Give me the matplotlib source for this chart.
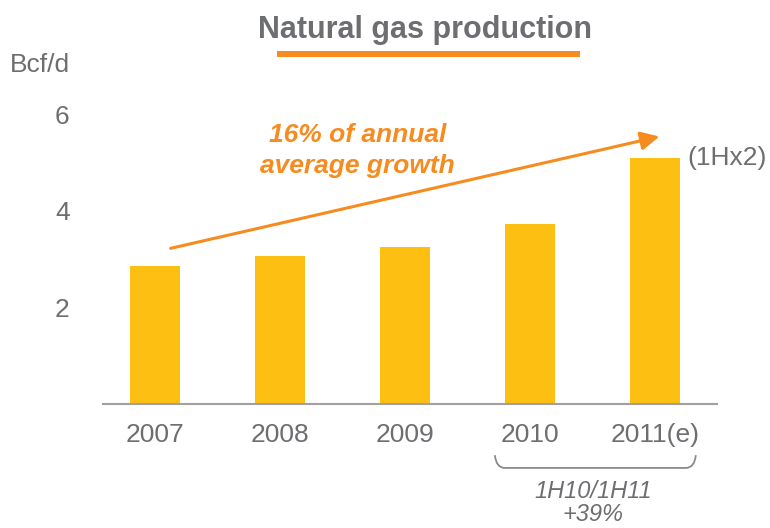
import numpy as np
import matplotlib.pyplot as plt
from matplotlib.path import Path
from matplotlib.patches import PathPatch
from matplotlib.lines import Line2D

plt.rcParams['font.family'] = ['Liberation Sans', 'DejaVu Sans']

years = ['2007', '2008', '2009', '2010', '2011(e)']
production = [2.85, 3.07, 3.26, 3.72, 5.09]
yticks = [2, 4, 6]

gray = '#6d6e71'
orange = '#f68b1f'
bar_color = '#fcbf12'

fig = plt.figure(figsize=(7.7, 5.28), dpi=100)
ax = fig.add_axes([0.1338, 0.2348, 0.7974, 0.5764])

x = np.arange(len(years))
ax.bar(x, production, width=0.4, color=bar_color, zorder=2)

ax.set_xlim(-0.42, 4.5)
ax.set_ylim(0, 6.3)
ax.set_xticks(x)
ax.set_xticklabels(years)
ax.set_yticks(yticks)
for s in ['top', 'right', 'left']:
    ax.spines[s].set_visible(False)
ax.spines['bottom'].set_color('#a0a0a0')
ax.spines['bottom'].set_linewidth(1.5)
ax.tick_params(axis='y', length=0, pad=24, labelsize=19, labelcolor=gray)
ax.tick_params(axis='x', length=0, pad=14, labelsize=19, labelcolor=gray)

# growth arrow and label
ax.annotate('', xy=(4.06, 5.55), xytext=(0.1, 3.21),
            arrowprops=dict(arrowstyle='-|>', color=orange, lw=2.2, mutation_scale=28))
ax.text(1.62, 5.25, '16% of annual\naverage growth', color=orange, fontsize=19,
        fontweight='bold', fontstyle='italic', ha='center', va='center', linespacing=1.38)
ax.text(4.26, production[-1], '(1Hx2)', color=gray, fontsize=19, ha='left', va='center')

# brace under 2010 / 2011
tr = ax.get_xaxis_transform()
verts = [(2.72, -0.168), (2.73, -0.21), (2.8, -0.21), (4.25, -0.21),
         (4.32, -0.21), (4.33, -0.168)]
codes = [Path.MOVETO, Path.CURVE3, Path.CURVE3, Path.LINETO, Path.CURVE3, Path.CURVE3]
ax.add_patch(PathPatch(Path(verts, codes), transform=tr, fill=False,
                       edgecolor='#8a8a8a', lw=1.3, clip_on=False))
ax.text(3.51, -0.248, '1H10/1H11\n+39%', transform=tr, color=gray, fontsize=17,
        fontstyle='italic', ha='center', va='top', linespacing=1.0)

# title with underline
fig.text(0.552, 0.943, 'Natural gas production', color=gray, fontsize=22,
         fontweight='bold', ha='center', va='center')
fig.add_artist(Line2D([0.3636, 0.7494], [0.8977, 0.8977], color=orange, lw=4.3,
                      transform=fig.transFigure))
fig.text(0.013, 0.877, 'Bcf/d', color=gray, fontsize=19, ha='left', va='center')

fig.savefig('out.png', dpi=100)
